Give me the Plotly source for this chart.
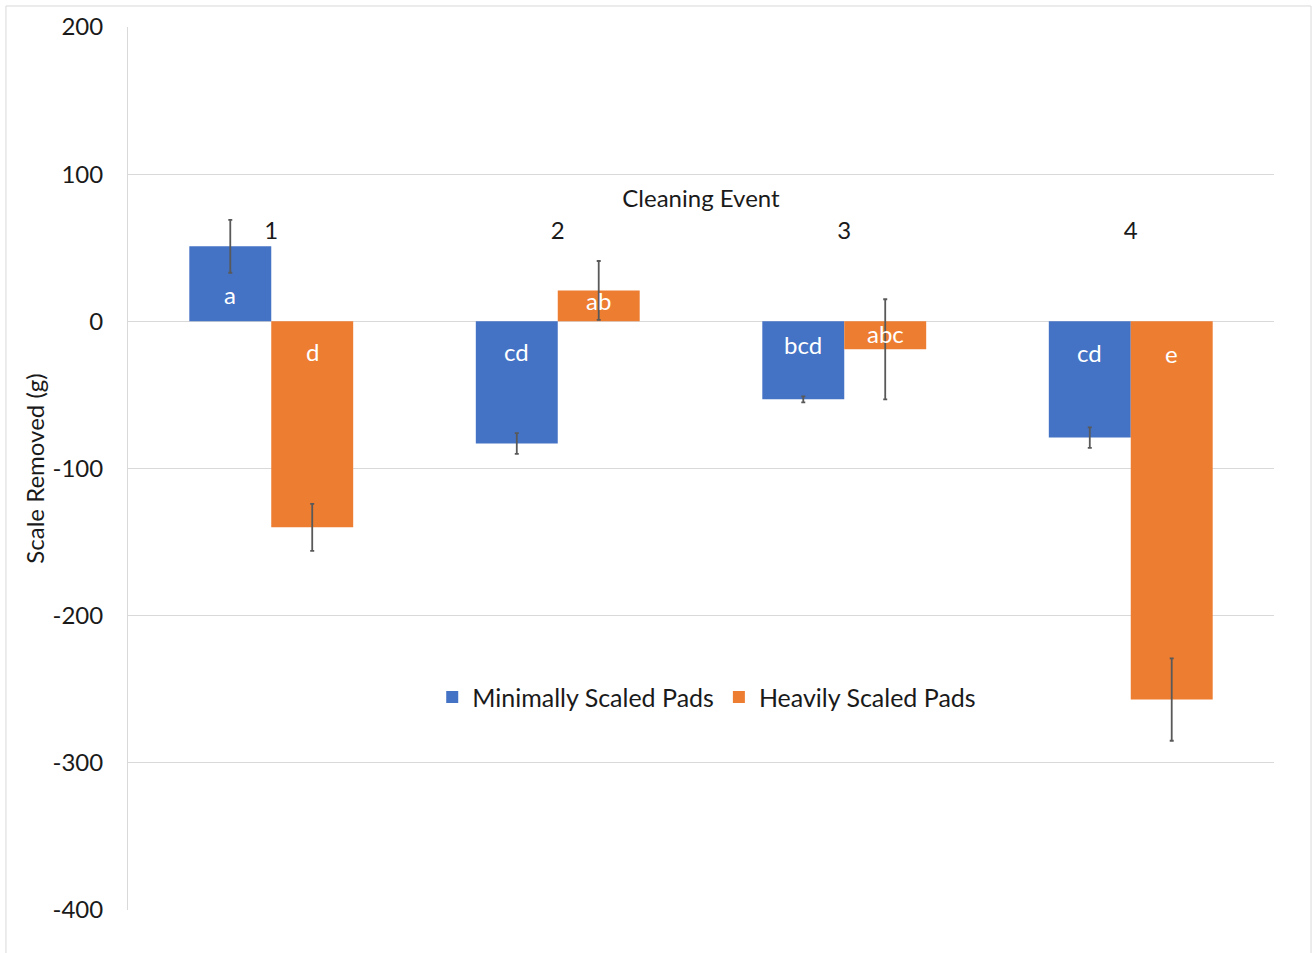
import plotly.graph_objects as go

# Cleaning events and scale removed per pad group (g)
events = ["1", "2", "3", "4"]
minimal_mean = [51, -83, -53, -79]
minimal_err = [18, 7, 2, 7]
minimal_letters = ["a", "cd", "bcd", "cd"]
heavy_mean = [-140, 21, -19, -257]
heavy_err = [16, 20, 34, 28]
heavy_letters = ["d", "ab", "abc", "e"]

y_ticks = [-400, -300, -200, -100, 0, 100, 200]

# vertical placement of the significance letters, in px from the zero line
minimal_letter_shift = [27, -30, -23, -31]
heavy_letter_shift = [-30, 21, -12, -32]

FONT = "Lato, 'Open Sans', sans-serif"
BLUE = "#4472C4"
ORANGE = "#ED7D31"
GRID = "#D9D9D9"
ERR = "#595959"
TEXT = "#1a1a1a"

WIDTH, HEIGHT = 1316, 953
MARGIN = dict(l=128, r=42, t=27, b=43)
BARGAP = 0.428

fig = go.Figure()


def add_series(name, means, errs, color):
    fig.add_trace(go.Bar(
        name=name,
        x=events,
        y=means,
        marker=dict(color=color, line=dict(width=0)),
        error_y=dict(type="data", array=errs, visible=True,
                     color=ERR, thickness=1.8, width=2),
        hoverinfo="skip",
    ))


add_series("Minimally Scaled Pads", minimal_mean, minimal_err, BLUE)
add_series("Heavily Scaled Pads", heavy_mean, heavy_err, ORANGE)

# letters sit in the middle of each bar's column within the group
plot_w = WIDTH - MARGIN["l"] - MARGIN["r"]
half_bar = plot_w / len(events) * (1 - BARGAP) / 4
annotations = []
for letters, shifts, side in ((minimal_letters, minimal_letter_shift, -1),
                              (heavy_letters, heavy_letter_shift, 1)):
    for idx, (lab, sh) in enumerate(zip(letters, shifts)):
        annotations.append(dict(
            x=idx, y=0, xref="x", yref="y", text=lab, showarrow=False,
            xanchor="center", yanchor="middle",
            xshift=side * half_bar, yshift=sh,
            font=dict(color="white", size=24, family=FONT),
        ))

fig.update_layout(
    width=WIDTH,
    height=HEIGHT,
    margin=MARGIN,
    paper_bgcolor="white",
    plot_bgcolor="white",
    barmode="group",
    bargap=BARGAP,
    bargroupgap=0,
    font=dict(family=FONT, size=24, color=TEXT),
    showlegend=True,
    legend=dict(
        orientation="h",
        x=0.505, y=0.241,
        xanchor="center", yanchor="middle",
        font=dict(size=25, family=FONT, color=TEXT),
        bgcolor="rgba(0,0,0,0)",
        itemsizing="constant",
    ),
    xaxis=dict(
        type="category",
        side="top",
        anchor="free",
        position=0.754,
        range=[-0.5, len(events) - 0.5],
        showline=False,
        showgrid=False,
        zeroline=False,
        ticks="",
        tickfont=dict(size=24, family=FONT, color=TEXT),
        title=dict(text="Cleaning Event", standoff=0,
                   font=dict(size=24, family=FONT, color=TEXT)),
    ),
    yaxis=dict(
        range=[-400, 200],
        tickvals=y_ticks,
        ticktext=[str(v) for v in y_ticks],
        showgrid=True,
        gridcolor=GRID,
        gridwidth=1,
        zeroline=True,
        zerolinecolor=GRID,
        zerolinewidth=1,
        showline=True,
        linecolor=GRID,
        linewidth=1,
        ticks="",
        ticklabelstandoff=19,
        tickfont=dict(size=24, family=FONT, color=TEXT),
        title=dict(text="Scale Removed (g)", standoff=1,
                   font=dict(size=24, family=FONT, color=TEXT)),
    ),
    annotations=annotations,
    shapes=[dict(
        type="rect", xref="paper", yref="paper",
        x0=-0.1065, x1=1.0323, y0=-0.06, y1=1.0238,
        line=dict(color=GRID, width=1), fillcolor="rgba(0,0,0,0)",
        layer="below",
    )],
)

fig.write_html("out.html")
